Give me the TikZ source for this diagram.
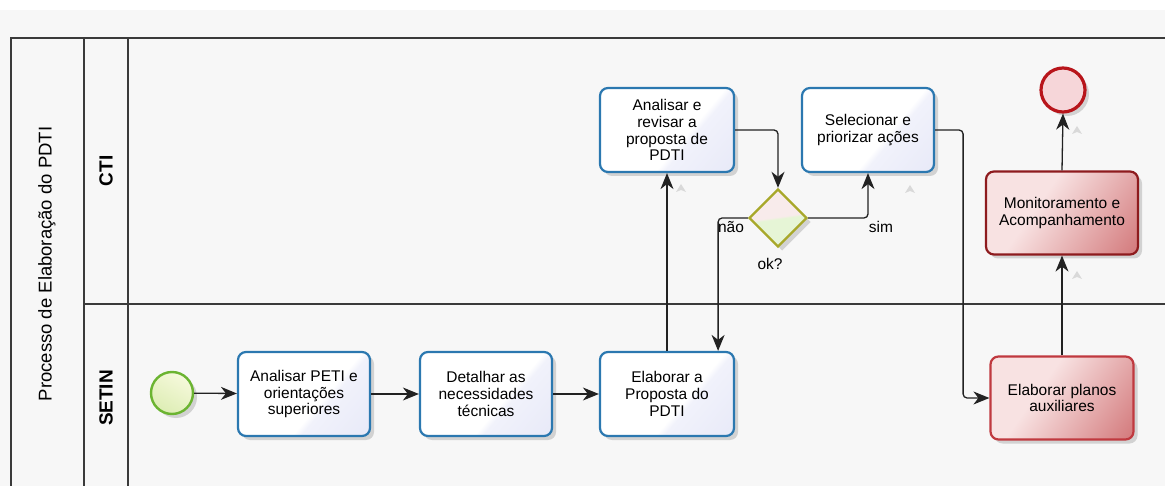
\documentclass[tikz,border=0pt]{standalone}
\usepackage{fontspec}
\setmainfont{Liberation Sans}
\usetikzlibrary{shapes.geometric,arrows.meta,shadows}

\definecolor{bgpaper}{HTML}{F7F7F7}
\definecolor{poolline}{HTML}{3A3A3A}
\definecolor{taskblue}{HTML}{2B78B0}
\definecolor{lavA}{HTML}{F1F2FB}
\definecolor{lavB}{HTML}{E2E4F6}
\definecolor{redborder}{HTML}{C0393F}
\definecolor{redborderdark}{HTML}{8E1B1E}
\definecolor{redA}{HTML}{F8E2E2}
\definecolor{redB}{HTML}{C65457}
\definecolor{startborder}{HTML}{6BB431}
\definecolor{startA}{HTML}{F6F9DC}
\definecolor{startB}{HTML}{DDEDB4}
\definecolor{endborder}{HTML}{B8151B}
\definecolor{endfill}{HTML}{F6D6D9}
\definecolor{gwborder}{HTML}{A8A82A}
\definecolor{gwpink}{HTML}{F8EBEB}
\definecolor{gwgreen}{HTML}{E6F5D6}
\definecolor{flowline}{HTML}{222222}

% task fill: white towards the upper left, lavender in the lower-right corner
\pgfdeclarehorizontalshading{tasklav}{100bp}{color(0bp)=(white); color(58bp)=(white); color(61bp)=(lavA); color(100bp)=(lavB)}
% red task fill: pale pink darkening towards the lower right
\pgfdeclarehorizontalshading{taskred}{100bp}{color(0bp)=(redA); color(40bp)=(redA); color(100bp)=(redB)}
% gateway fill: pink upper half, green lower half
\pgfdeclareverticalshading{gwsplit}{100bp}{color(0bp)=(gwgreen); color(49bp)=(gwgreen); color(51bp)=(gwpink); color(100bp)=(gwpink)}

\tikzset{
  txt/.style={font=\fontsize{15.5}{16.8}\selectfont},
  shade box/.style={drop shadow={shadow xshift=4pt,shadow yshift=-4pt,opacity=0.15,fill=black}},
  task/.style={rectangle, rounded corners=8pt, draw=taskblue, line width=2.2pt,
    minimum width=132pt, minimum height=84pt, align=center, txt, inner sep=2pt,
    shade box, shading=tasklav, shading angle=-40},
  redtask/.style={task, draw=redborder, shading=taskred, shading angle=-35},
  startev/.style={circle, draw=startborder, line width=2.4pt, minimum size=42pt, inner sep=0pt,
    shade box, left color=startA, right color=startB, shading angle=-30},
  endev/.style={circle, draw=endborder, line width=3.2pt, minimum size=42pt, inner sep=0pt,
    shade box, fill=endfill},
  gateway/.style={diamond, draw=gwborder, line width=2.4pt, minimum width=58pt, minimum height=58pt,
    inner sep=0pt, shade box, shading=gwsplit, shading angle=8},
  flow/.style={draw=flowline, line width=1.3pt, rounded corners=4pt,
    -{Stealth[length=16pt,width=13pt,inset=5pt]}},
  pool/.style={draw=poolline, line width=1.2pt},
  lanelabel/.style={font=\fontsize{19}{20}\selectfont\bfseries, rotate=90},
  anchormark/.style={fill=black!15, draw=none},
}

\begin{document}
\begin{tikzpicture}[x=1pt,y=-1pt]
% paper
\fill[white] (0,0) rectangle (1165,486);
\fill[bgpaper] (0,10) rectangle (1165,486);
\useasboundingbox (0,0) rectangle (1165,486);

% pool and lanes
\draw[pool] (1165,38) -- (11,38) -- (11,486);
\draw[pool] (84,38) -- (84,486);
\draw[pool] (128,38) -- (128,486);
\draw[pool] (84,304) -- (1165,304);

\node[font=\fontsize{18.5}{20}\selectfont, rotate=90] (poolname) at (47,264) {Processo de Elaboração do PDTI};
\node[lanelabel] (lanecti) at (106,171) {CTI};
\node[lanelabel] (lanesetin) at (106,398) {SETIN};

% events, tasks and gateway
\node[startev] (start) at (172,393) {};
\node[task] (t1) at (304,394) {Analisar PETI e\\orientações\\superiores};
\node[task] (t2) at (486,394) {Detalhar as\\necessidades\\técnicas};
\node[task, minimum width=134pt] (t3) at (667,394) {Elaborar a\\Proposta do\\PDTI};
\node[task, minimum width=134pt] (t4) at (667,130) {Analisar e\\revisar a\\proposta de\\PDTI};
\node[gateway] (gw) at (778,218) {};
\node[task] (t5) at (868,130) {Selecionar e\\priorizar ações};
\node[redtask, draw=redborderdark, minimum width=152pt, minimum height=83pt] (t6) at (1062,213) {Monitoramento e\\Acompanhamento};
\node[redtask, minimum width=143pt, minimum height=83pt] (t7) at (1062,398) {Elaborar planos\\auxiliares};
\node[endev, minimum size=44pt] (end) at (1063,90) {};

% small anchor marks under the connectors
\fill[anchormark] (681,184) -- (686,192) -- (681,190) -- (676,192) -- cycle;
\fill[anchormark] (910,185) -- (915,193) -- (910,191) -- (905,193) -- cycle;
\fill[anchormark] (1077,126) -- (1082,134) -- (1077,132) -- (1072,134) -- cycle;
\fill[anchormark] (1077,271) -- (1082,279) -- (1077,277) -- (1072,279) -- cycle;

% sequence flows
\draw[flow] (start) -- (t1);
\draw[flow] (t1) -- (t2);
\draw[flow] (t2) -- (t3);
\draw[flow] (t3.north) -- (t4.south);
\draw[flow] (t4.east) -| (gw.north);
\draw[flow] (gw.west) -| ([xshift=-17pt]t3.north east);
\draw[flow] (gw.east) -| (t5.south);
\draw[flow] (t5.east) -- ([xshift=28pt]t5.east) |- (t7.west);
\draw[flow] (t7.north) -- (t6.south);
\draw[flow] (t6.north) -- (end.south);

% gateway labels
\node[txt] (lblnao) at (731,227) {não};
\node[txt] (lblsim) at (881,227) {sim};
\node[txt] (lblok) at (770,264) {ok?};
\end{tikzpicture}
\end{document}
